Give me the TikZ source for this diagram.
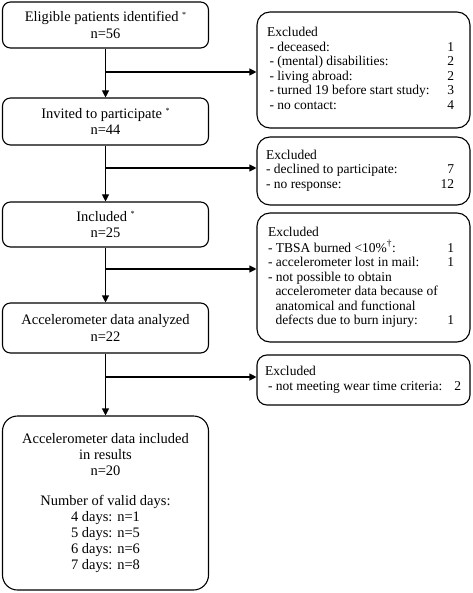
\documentclass[tikz,border=0pt]{standalone}
\usepackage{fontspec}
\setmainfont{Liberation Serif}
\usetikzlibrary{arrows.meta}
\newcommand\supast{\raisebox{4.5pt}{\fontsize{8}{8}\selectfont *}}
\tikzset{
  mainbox/.style={draw, line width=1.1pt, rounded corners=8pt, minimum width=206pt,
    inner sep=0pt, align=center, font=\fontsize{14.5}{16.5}\selectfont},
  exbox/.style={draw, line width=1.1pt, rounded corners=13pt, minimum width=213pt,
    inner sep=0pt, font=\fontsize{13.5}{14.5}\selectfont},
  conn/.style={line width=1.1pt, -{Triangle[length=7pt,width=7pt]}},
}
\begin{document}
\begin{tikzpicture}[x=1pt,y=-1pt]
\useasboundingbox (0,0) rectangle (472,593);
% main column
\node[mainbox, minimum height=46pt] (A) at (105.5,25) {Eligible patients identified \supast\\n=56};
\node[mainbox, minimum height=47pt] (B) at (105.5,121.5) {Invited to participate \supast\\n=44};
\node[mainbox, minimum height=45pt] (C) at (105.5,224.5) {Included \supast\\n=25};
\node[mainbox, minimum height=50pt] (D) at (105.5,328) {Accelerometer data analyzed\\n=22};
\node[mainbox, rounded corners=15pt, minimum height=174pt, font=\fontsize{14.5}{16}\selectfont] (E) at (105.5,503)
  {Accelerometer data included\\in results\\n=20\\[14pt]Number of valid days:\\4 days: n=1\\5 days: n=5\\6 days: n=6\\7 days: n=8};
% excluded boxes
\node[exbox, minimum height=116pt] (X1) at (363.5,70) {\begin{tabular}{@{}p{180.25pt}@{}r@{\hspace{6pt}}}
Excluded & \\
\hspace{2.5pt}- deceased: & 1\\
\hspace{2.5pt}- (mental) disabilities: & 2\\
\hspace{2.5pt}- living abroad: & 2\\
\hspace{2.5pt}- turned 19 before start study: & 3\\
\hspace{2.5pt}- no contact: & 4
\end{tabular}};
\node[exbox, minimum height=68pt] (X2) at (363.5,171) {\begin{tabular}{@{}p{174.5pt}@{}r@{\hspace{7pt}}}
Excluded & \\
- declined to participate: & 7\\
- no response: & 12
\end{tabular}};
\node[exbox, minimum height=129pt] (X3) at (363.5,277.5) {\begin{tabular}{@{}p{179.25pt}@{}r@{\hspace{5pt}}}
Excluded & \\
- TBSA burned <10\%\textsuperscript{†}: & 1\\
- accelerometer lost in mail: & 1\\
- not possible to obtain & \\
\hspace{7.5pt}accelerometer data because of & \\
\hspace{7.5pt}anatomical and functional & \\
\hspace{7.5pt}defects due to burn injury: & 1
\end{tabular}};
\node[exbox, rounded corners=10pt, minimum height=50pt] (X4) at (363.5,380) {\begin{tabular}{@{}p{189.25pt}@{}r@{\hspace{1pt}}}
Excluded & \\
\hspace{3pt}- not meeting wear time criteria: & 2
\end{tabular}};
% connectors
\draw[conn] (A) -- (B);
\draw[conn] (B) -- (C);
\draw[conn] (C) -- (D);
\draw[conn] (D) -- (E);
\coordinate (b1) at (105.5,72);
\coordinate (b2) at (105.5,168);
\coordinate (b3) at (105.5,269);
\coordinate (b4) at (105.5,377);
\draw[conn] (b1) -- (b1 -| X1.west);
\draw[conn] (b2) -- (b2 -| X2.west);
\draw[conn] (b3) -- (b3 -| X3.west);
\draw[conn] (b4) -- (b4 -| X4.west);
\end{tikzpicture}
\end{document}
